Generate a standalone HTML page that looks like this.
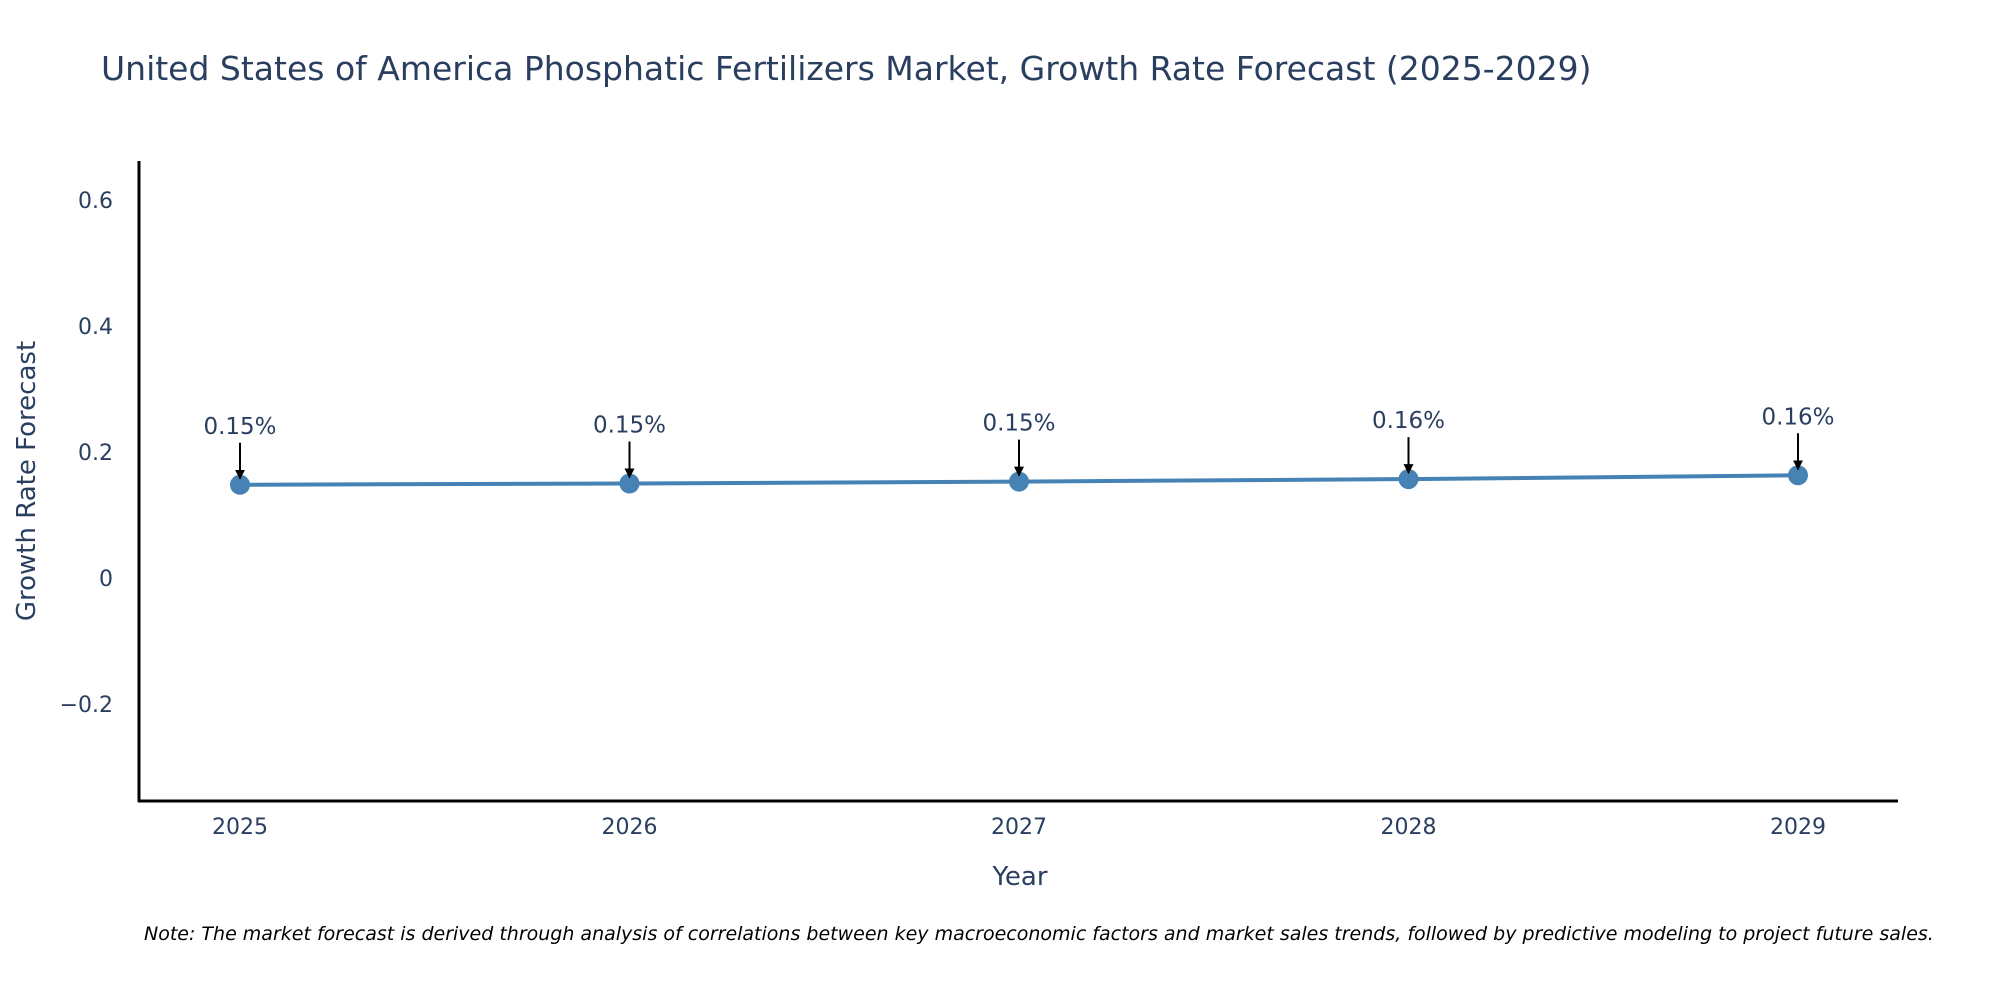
<!DOCTYPE html>
<html><head><meta charset="utf-8"><style>
body{margin:0;background:#fff;}
svg text{font-family:"DejaVu Sans","Liberation Sans",sans-serif;fill:#2a3f5f;}
</style></head><body>
<svg id="chart" width="2000" height="1000" viewBox="0 0 2000 1000" xmlns="http://www.w3.org/2000/svg">
<defs><marker id="ah" viewBox="0 0 10 10" refX="9" refY="5" markerWidth="5" markerHeight="5" orient="auto"><path d="M0,0 L10,5 L0,10 z" fill="#000"/></marker></defs>
<text x="101" y="80" font-size="33">United States of America Phosphatic Fertilizers Market, Growth Rate Forecast (2025-2029)</text>
<g id="marks"></g>
<line x1="139" y1="161" x2="139" y2="802" stroke="#000" stroke-width="3"/>
<line x1="138" y1="801" x2="1898" y2="801" stroke="#000" stroke-width="3"/>
<text x="1020" y="885" font-size="26" text-anchor="middle">Year</text>
<text transform="translate(35,481) rotate(-90)" font-size="26" text-anchor="middle">Growth Rate Forecast</text>
<text x="144" y="940" font-size="19" font-style="italic" style="fill:#000">Note: The market forecast is derived through analysis of correlations between key macroeconomic factors and market sales trends, followed by predictive modeling to project future sales.</text>
</svg>
<script>
const years=[2025,2026,2027,2028,2029];
const values=[0.148,0.150,0.153,0.157,0.163];
const labels=["0.15%","0.15%","0.15%","0.16%","0.16%"];
const yTicks=[-0.2,0,0.2,0.4,0.6];
const yTickLabels=["\u22120.2","0","0.2","0.4","0.6"];
const NS="http://www.w3.org/2000/svg";
const xs=v=>240+(v-2025)*389.5;
const ys=v=>578-v*630;
const svg=document.getElementById('chart');
const marks=document.getElementById('marks');
function mk(t,a,p){const e=document.createElementNS(NS,t);for(const k in a)e.setAttribute(k,a[k]);(p||svg).appendChild(e);return e;}
yTicks.forEach((t,i)=>{
  const e=mk('text',{x:113,y:ys(t)+8,'font-size':22,'text-anchor':'end'});
  
  
  e.textContent=yTickLabels[i];
});
years.forEach(y=>{
  const e=mk('text',{x:xs(y),y:834,'font-size':22,'text-anchor':'middle'});
  
  
  e.textContent=y;
});
const line=mk('polyline',{points:years.map((y,i)=>xs(y)+','+ys(values[i])).join(' '),fill:'none',stroke:'#4682b4','stroke-width':4},marks);


years.forEach((y,i)=>{
  const cx=xs(y),cy=ys(values[i]);
  const c=mk('circle',{cx:cx,cy:cy,r:10,fill:'#4682b4'},marks);
  
  
  const a=mk('line',{x1:cx,y1:cy-42,x2:cx,y2:cy-6,stroke:'#000','stroke-width':2,'marker-end':'url(#ah)'},marks);
  
  
  const t=mk('text',{x:cx,y:cy-51,'font-size':23,'text-anchor':'middle'},marks);
  
  
  t.textContent=labels[i];
});
</script>
</body></html>
